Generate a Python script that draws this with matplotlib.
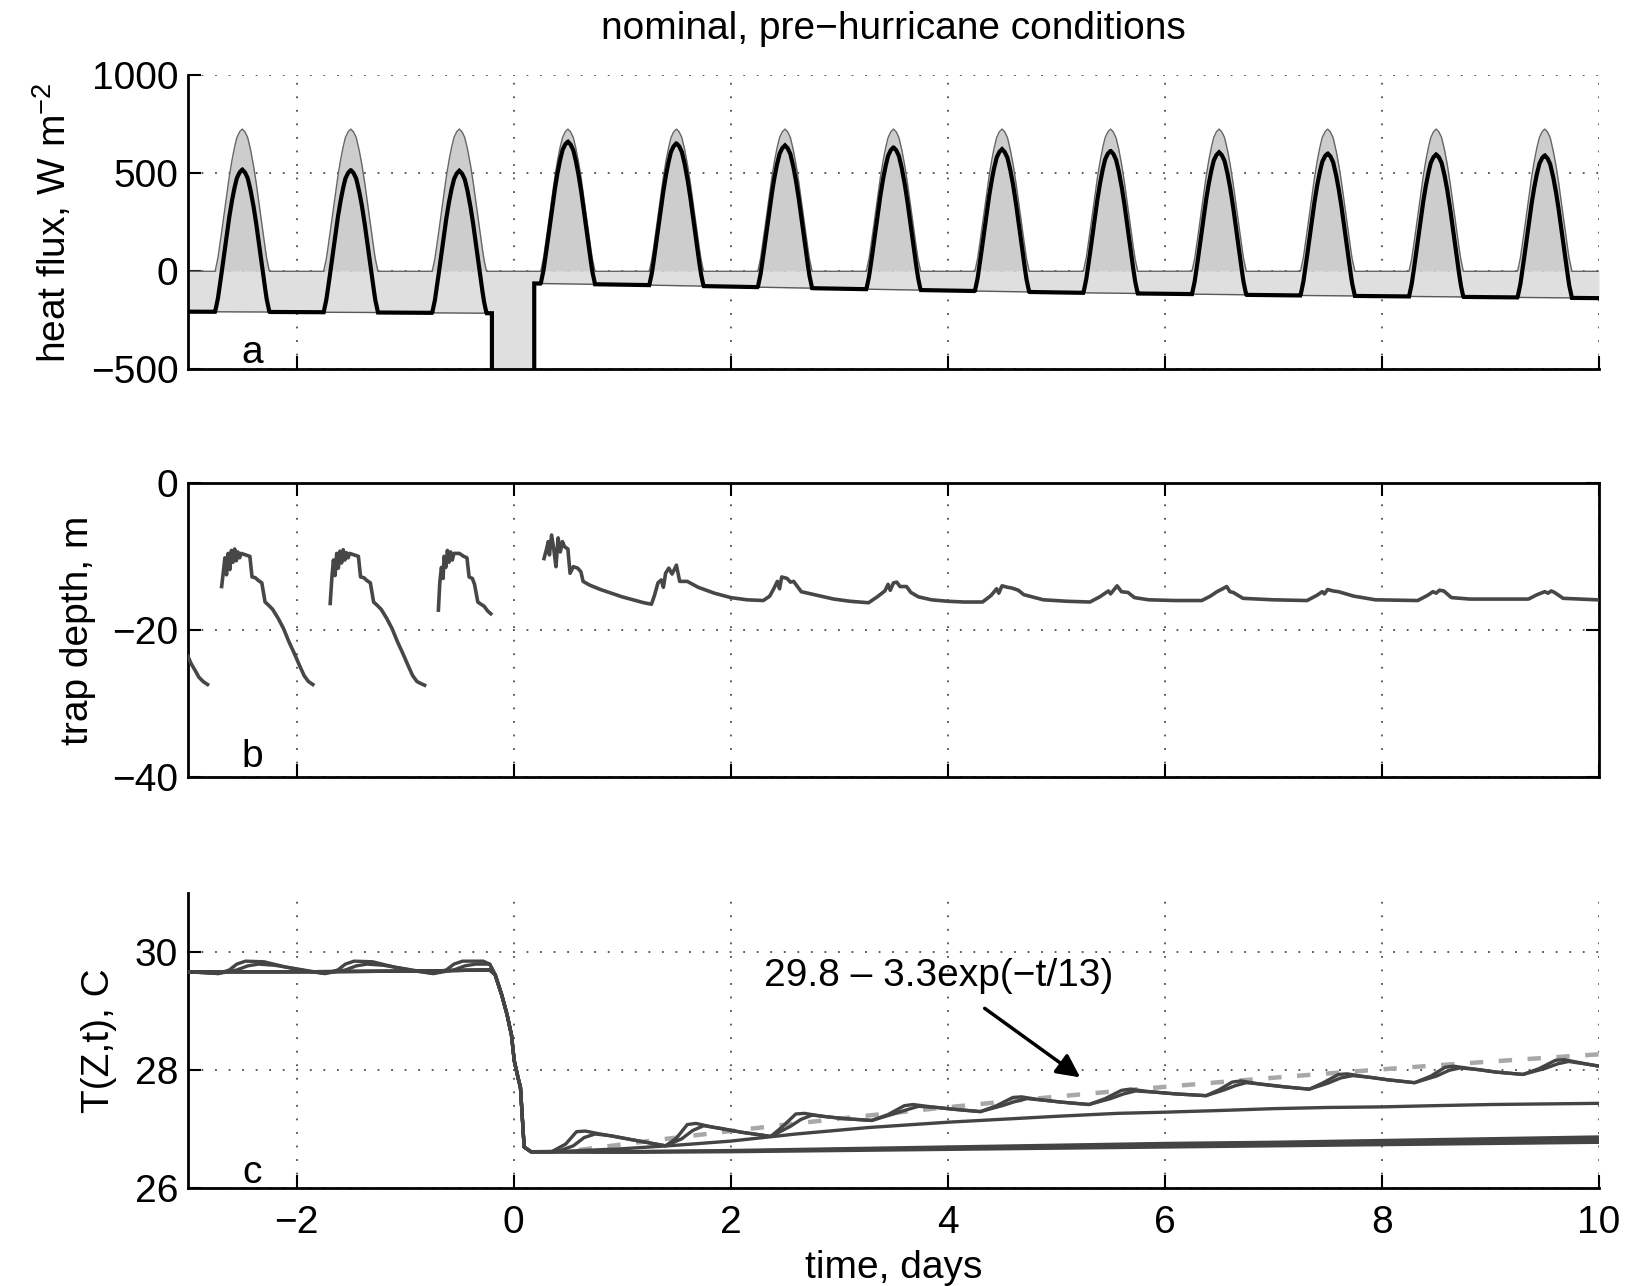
import numpy as np
import matplotlib
matplotlib.use("Agg")
import matplotlib.pyplot as plt

plt.rcParams['font.family'] = ['Liberation Sans', 'DejaVu Sans']
plt.rcParams['mathtext.fontset'] = 'custom'
plt.rcParams['mathtext.rm'] = 'Liberation Sans'
plt.rcParams['mathtext.it'] = 'Liberation Sans:italic'
plt.rcParams['font.size'] = 28
plt.rcParams['axes.unicode_minus'] = True

# ---------------- data: panel a (heat flux) ----------------
solar_peak = [726, 726, 726, 726, 726, 726, 726, 726, 726, 726, 726, 726, 726]  # one per day, -3..9
# diurnal shape of solar flux: fraction of peak vs |time from noon| (days)
solar_shape_dt = [0.0, 0.025, 0.05, 0.075, 0.1, 0.125, 0.15, 0.175, 0.2, 0.225, 0.25]
solar_shape_fr = [1.0, 0.98, 0.94, 0.86, 0.76, 0.64, 0.50, 0.36, 0.22, 0.09, 0.0]
# other (non-solar) heat flux, W m-2
q_pre_t = [-3.0, -2.0, -1.0, -0.2]
q_pre_v = [-206, -208, -211, -214]
q_storm_t = [-0.2, 0.19]
q_storm_v = [-1500, -1500]
q_post_t = [0.19, 1, 2, 3, 4, 5, 6, 7, 8, 9, 10]
q_post_v = [-62, -68, -78, -89, -98, -108, -115, -122, -127, -132, -137]

# ---------------- data: panel b (trap depth) ----------------
trap_segments = [
    ([-3.0, -2.97, -2.93, -2.90, -2.86, -2.82],
     [-23.6, -24.6, -25.6, -26.4, -27.0, -27.4]),
    ([-2.69, -2.675, -2.66, -2.645, -2.63, -2.615, -2.60, -2.585, -2.57, -2.555, -2.54, -2.525, -2.51,
      -2.47, -2.43, -2.41, -2.38, -2.35, -2.32, -2.29, -2.26, -2.22, -2.17, -2.12, -2.07, -2.02, -1.97,
      -1.93, -1.89, -1.85],
     [-14.1, -12.2, -10.2, -12.5, -9.6, -11.8, -9.2, -10.8, -9.0, -10.6, -9.4, -10.2, -9.6,
      -9.8, -10.0, -12.8, -12.9, -13.3, -13.6, -16.2, -16.6, -17.2, -18.4, -19.8, -21.6, -23.2, -24.9,
      -26.2, -27.0, -27.4]),
    ([-1.69, -1.675, -1.66, -1.645, -1.63, -1.615, -1.60, -1.585, -1.57, -1.555, -1.54, -1.525, -1.51,
      -1.47, -1.43, -1.41, -1.38, -1.35, -1.32, -1.29, -1.26, -1.22, -1.17, -1.12, -1.07, -1.02, -0.97,
      -0.93, -0.89, -0.85, -0.82],
     [-16.4, -13.0, -10.5, -12.6, -9.6, -11.6, -9.3, -10.9, -9.1, -10.5, -9.5, -10.2, -9.6,
      -9.8, -10.0, -12.8, -12.9, -13.3, -13.6, -16.2, -16.6, -17.2, -18.4, -19.8, -21.6, -23.2, -24.9,
      -26.2, -27.0, -27.3, -27.5]),
    ([-0.693, -0.68, -0.665, -0.65, -0.64, -0.625, -0.61, -0.595, -0.58, -0.565, -0.55, -0.50, -0.46,
      -0.43, -0.41, -0.38, -0.36, -0.33, -0.30, -0.27, -0.24, -0.21],
     [-17.3, -13.5, -11.5, -13.0, -10.0, -11.5, -9.2, -10.8, -9.4, -10.5, -9.6, -9.6, -10.0,
      -10.2, -12.8, -13.0, -13.8, -16.2, -16.5, -16.8, -17.4, -17.8]),
    ([0.28, 0.30, 0.32, 0.33, 0.35, 0.37, 0.39, 0.41, 0.43, 0.45, 0.47, 0.50, 0.52, 0.55, 0.59, 0.62,
      0.64, 0.70, 0.80, 0.90, 1.0, 1.1, 1.2, 1.27, 1.30, 1.33, 1.36, 1.38, 1.40, 1.43, 1.46, 1.50,
      1.53, 1.60, 1.70, 1.85, 2.0, 2.15, 2.30, 2.36, 2.40, 2.43, 2.45, 2.47, 2.52, 2.55, 2.58, 2.65,
      2.80, 2.95, 3.1, 3.27, 3.35, 3.42, 3.45, 3.47, 3.50, 3.53, 3.56, 3.62, 3.66, 3.73, 3.85, 4.0,
      4.15, 4.32, 4.40, 4.45, 4.47, 4.50, 4.55, 4.59, 4.65, 4.70, 4.88, 5.1, 5.31, 5.40, 5.48, 5.50,
      5.56, 5.60, 5.66, 5.72, 5.85, 6.1, 6.34, 6.42, 6.48, 6.52, 6.57, 6.60, 6.63, 6.72, 7.0, 7.31,
      7.40, 7.45, 7.47, 7.50, 7.55, 7.60, 7.74, 7.94, 8.33, 8.42, 8.47, 8.50, 8.53, 8.57, 8.64, 8.81,
      9.35, 9.43, 9.50, 9.53, 9.56, 9.59, 9.67, 9.98, 10.0],
     [-10.3, -9.2, -8.0, -9.8, -7.1, -9.0, -11.4, -7.5, -9.4, -8.0, -8.7, -9.0, -12.3, -11.4, -11.6, -12.1,
      -13.4, -13.9, -14.5, -15.0, -15.5, -15.9, -16.3, -16.5, -15.2, -13.6, -13.2, -14.2, -12.3, -11.6, -12.4, -11.2,
      -13.4, -13.4, -14.2, -15.0, -15.6, -15.9, -16.0, -15.4, -14.3, -13.4, -14.4, -12.8, -13.0, -13.5, -13.4, -14.8,
      -15.3, -15.8, -16.1, -16.3, -15.5, -14.7, -13.8, -14.6, -13.6, -13.5, -14.1, -14.1, -14.9, -15.5, -15.9, -16.1,
      -16.2, -16.2, -15.3, -14.4, -15.0, -14.0, -14.2, -14.3, -14.6, -15.2, -15.9, -16.1, -16.2, -15.5, -14.7, -15.1,
      -14.0, -14.8, -14.9, -15.6, -15.9, -16.0, -16.0, -15.4, -14.8, -14.5, -14.1, -14.8, -14.9, -15.7, -15.9, -16.0,
      -15.3, -14.8, -15.1, -14.5, -14.7, -14.8, -15.4, -15.9, -16.0, -15.3, -14.8, -15.0, -14.6, -14.7, -15.6, -15.8,
      -15.8, -15.2, -14.8, -15.0, -14.7, -14.9, -15.7, -15.9, -15.9]),
]

# ---------------- data: panel c (temperature) ----------------
drop_t = [-0.17, -0.11, -0.06, -0.02, 0.006, 0.04, 0.063, 0.078, 0.097, 0.16]
drop_v = [29.62, 29.28, 28.94, 28.60, 28.16, 27.88, 27.71, 27.26, 26.70, 26.62]

s1_pre_t = [-3.0, -2.72, -2.62, -2.55, -2.47, -2.3, -2.1, -1.9, -1.74, -1.62, -1.55, -1.47, -1.3, -1.1,
            -0.9, -0.74, -0.62, -0.55, -0.47, -0.28, -0.22]
s1_pre_v = [29.67, 29.64, 29.70, 29.80, 29.85, 29.84, 29.75, 29.68, 29.64, 29.70, 29.80, 29.85, 29.84, 29.75,
            29.68, 29.64, 29.70, 29.80, 29.85, 29.85, 29.80]
s1_post_t = [0.35, 0.48, 0.58, 0.66, 0.8, 1.1, 1.4, 1.5, 1.6, 1.68, 1.85, 2.1, 2.37, 2.48, 2.6, 2.68, 2.85,
             3.05, 3.3, 3.45, 3.6, 3.68, 3.85, 4.05, 4.3, 4.45, 4.6, 4.68, 4.85, 5.05, 5.3, 5.45, 5.6, 5.68,
             5.85, 6.1, 6.38, 6.5, 6.62, 6.7, 6.9, 7.1, 7.33, 7.45, 7.6, 7.68, 7.85, 8.05, 8.3, 8.45, 8.58,
             8.66, 8.85, 9.05, 9.3, 9.45, 9.6, 9.68, 9.85, 10.0]
s1_post_v = [26.62, 26.75, 26.96, 26.97, 26.92, 26.82, 26.72, 26.85, 27.08, 27.10, 27.03, 26.95, 26.88, 27.05,
             27.26, 27.27, 27.22, 27.18, 27.15, 27.25, 27.40, 27.42, 27.38, 27.34, 27.30, 27.40, 27.54, 27.55,
             27.50, 27.46, 27.42, 27.52, 27.66, 27.68, 27.64, 27.60, 27.57, 27.67, 27.80, 27.82, 27.76, 27.72,
             27.68, 27.78, 27.93, 27.94, 27.89, 27.84, 27.79, 27.90, 28.05, 28.07, 28.02, 27.97, 27.93, 28.03,
             28.17, 28.18, 28.12, 28.07]

s2_pre_t = [-3.0, -2.72, -2.55, -2.45, -2.35, -2.2, -2.0, -1.74, -1.55, -1.45, -1.35, -1.2, -1.0,
            -0.74, -0.55, -0.45, -0.35, -0.22]
s2_pre_v = [29.67, 29.64, 29.70, 29.77, 29.80, 29.78, 29.72, 29.64, 29.70, 29.77, 29.80, 29.78, 29.72,
            29.64, 29.70, 29.77, 29.80, 29.80]
s2_post_t = [0.4, 0.55, 0.65, 0.75, 0.9, 1.1, 1.4, 1.55, 1.65, 1.75, 1.9, 2.1, 2.37, 2.55, 2.65, 2.75, 2.9,
             3.05, 3.3, 3.5, 3.62, 3.73, 3.9, 4.05, 4.3, 4.5, 4.62, 4.73, 4.9, 5.05, 5.3, 5.5, 5.62, 5.73,
             5.9, 6.1, 6.38, 6.55, 6.65, 6.75, 6.92, 7.1, 7.33, 7.5, 7.62, 7.73, 7.9, 8.05, 8.3, 8.5, 8.62,
             8.72, 8.9, 9.05, 9.3, 9.5, 9.62, 9.72, 9.9, 10.0]
s2_post_v = [26.62, 26.72, 26.86, 26.92, 26.89, 26.82, 26.72, 26.84, 26.98, 27.06, 27.02, 26.95, 26.88, 27.05,
             27.17, 27.24, 27.21, 27.18, 27.15, 27.26, 27.33, 27.39, 27.37, 27.34, 27.30, 27.40, 27.47, 27.52,
             27.49, 27.46, 27.42, 27.52, 27.60, 27.65, 27.63, 27.60, 27.57, 27.67, 27.74, 27.79, 27.76, 27.72,
             27.68, 27.78, 27.87, 27.91, 27.88, 27.84, 27.79, 27.90, 28.00, 28.04, 28.01, 27.97, 27.93, 28.03,
             28.11, 28.15, 28.10, 28.07]

flat_pre_t = [-3.0, -2.0, -1.0, -0.22]
flat_pre_v = [29.67, 29.67, 29.68, 29.70]
mid_post_t = [0.5, 1.0, 1.5, 2.0, 2.6, 3.27, 4.0, 4.5, 5.0, 5.56, 6.0, 6.53, 7.0, 7.5, 8.0, 8.47, 9.0, 10.0]
mid_post_v = [26.63, 26.67, 26.73, 26.80, 26.92, 27.03, 27.12, 27.17, 27.22, 27.27, 27.29, 27.32, 27.35,
              27.37, 27.38, 27.40, 27.42, 27.44]
deep_post_t = [1, 2, 3, 4, 5, 6, 7, 8, 9, 10]
deep1_post_v = [26.62, 26.64, 26.67, 26.70, 26.73, 26.76, 26.78, 26.81, 26.84, 26.87]
deep2_post_v = [26.62, 26.63, 26.66, 26.68, 26.71, 26.73, 26.75, 26.78, 26.80, 26.83]
deep3_post_v = [26.61, 26.62, 26.64, 26.66, 26.68, 26.70, 26.72, 26.74, 26.76, 26.78]

fit_a, fit_b, fit_tau = 29.8, 3.3, 13.0
fit_t_start, fit_t_end = 0.6, 10.0

xticks = [-2, 0, 2, 4, 6, 8, 10]

# ---------------- figure ----------------
W, H = 1627, 1286
fig = plt.figure(figsize=(W / 100, H / 100), dpi=100)
L, R = 188 / W, 1599 / W
def frame(top, bot):
    return [L, 1 - bot / H, R - L, (bot - top) / H]

ax_a = fig.add_axes(frame(75.3, 369.3))
ax_b = fig.add_axes(frame(482.7, 777.3))
ax_c = fig.add_axes(frame(893.3, 1188.3))

grid_kw = dict(color='0.3', linestyle=(0, (1, 6.5)), linewidth=1.3)
for ax in (ax_a, ax_b, ax_c):
    ax.set_xlim(-3, 10)
    ax.set_xticks(xticks)
    ax.grid(True, **grid_kw)
    ax.set_axisbelow(True)
    ax.tick_params(direction='in', length=9.5, width=1.5, pad=7, labelsize=28)
    for s in ax.spines.values():
        s.set_linewidth(2.0)

# panel a
t_pre = np.linspace(q_pre_t[0], q_pre_t[-1], 700)
t_post = np.linspace(q_post_t[0], q_post_t[-1], 2400)
t = np.concatenate([t_pre, q_storm_t, t_post])
Q = np.concatenate([np.interp(t_pre, q_pre_t, q_pre_v), q_storm_v, np.interp(t_post, q_post_t, q_post_v)])
day_idx = np.clip(np.floor(t).astype(int) + 3, 0, len(solar_peak) - 1)
dnoon = np.abs(t - (np.floor(t) + 0.5))
S = np.array(solar_peak)[day_idx] * np.interp(dnoon, solar_shape_dt, solar_shape_fr, right=0.0)
net = S + Q

ax_a.fill_between(t, 0, S, color='#cdcdcd', linewidth=0, zorder=1)
ax_a.fill_between(t, Q, 0, color='#dfdfdf', linewidth=0, zorder=1)
ax_a.plot(t, S, color='0.4', lw=1.0, zorder=2)
ax_a.plot(t, Q, color='0.35', lw=1.0, zorder=2)
ax_a.plot(t, net, color='black', lw=3.0, zorder=3, solid_joinstyle='miter')
ax_a.set_ylim(-500, 1000)
ax_a.set_yticks([-500, 0, 500, 1000])
ax_a.tick_params(labelbottom=False)
ax_a.spines['top'].set_visible(False)
ax_a.spines['right'].set_visible(False)
ax_a.set_ylabel('heat flux, W m$^{-2}$', rotation=90, ha='center', va='center', rotation_mode='default')
ax_a.yaxis.set_label_coords((52 - 188) / (1599 - 188), 0.5)
ax_a.text(-2.41, -418, 'a', ha='center', va='center')

# panel b
for tx, ty in trap_segments:
    ax_b.plot(tx, ty, color='#474747', lw=2.6, zorder=3)
ax_b.set_ylim(-40, 0)
ax_b.set_yticks([-40, -20, 0])
ax_b.tick_params(labelbottom=False, top=True, right=True)
ax_b.set_ylabel('trap depth, m', rotation=90, ha='center', va='center', rotation_mode='default')
ax_b.yaxis.set_label_coords((78 - 188) / (1599 - 188), 0.5)
ax_b.text(-2.41, -37.2, 'b', ha='center', va='center')

# panel c
fit_t = np.linspace(fit_t_start, fit_t_end, 300)
ax_c.plot(fit_t, fit_a - fit_b * np.exp(-fit_t / fit_tau), color='0.66', lw=3.2,
          dashes=(3, 3.5), zorder=2)
lc = '#444444'
def line(pre_t, pre_v, post_t, post_v, lw=2.4):
    tt = list(pre_t) + list(drop_t) + list(post_t)
    vv = list(pre_v) + list(drop_v) + list(post_v)
    ax_c.plot(tt, vv, color=lc, lw=lw, zorder=3)

line(flat_pre_t, flat_pre_v, deep_post_t, deep3_post_v)
line(flat_pre_t, flat_pre_v, deep_post_t, deep2_post_v)
line(flat_pre_t, flat_pre_v, deep_post_t, deep1_post_v)
line(flat_pre_t, flat_pre_v, mid_post_t, mid_post_v)
line(s2_pre_t, s2_pre_v, s2_post_t, s2_post_v)
line(s1_pre_t, s1_pre_v, s1_post_t, s1_post_v)

ax_c.set_ylim(26, 31)
ax_c.set_yticks([26, 28, 30])
ax_c.spines['top'].set_visible(False)
ax_c.spines['right'].set_visible(False)
ax_c.tick_params(axis='x', pad=12)
ax_c.set_ylabel('T(Z,t), C', rotation=90, ha='center', va='center', rotation_mode='default')
ax_c.yaxis.set_label_coords((99 - 188) / (1599 - 188), 0.5)
ax_c.set_xlabel('time, days', va='center')
ax_c.xaxis.set_label_coords(0.5, (1188.3 - 1268) / (1188.3 - 893.3))
ax_c.text(-2.41, 26.26, 'c', ha='center', va='center')
ax_c.text(3.92, 29.59, '29.8 \u2013 3.3exp(\u2212t/13)', ha='center', va='center')
ax_c.annotate('', xy=(5.22, 27.88), xytext=(4.34, 29.05),
              arrowprops=dict(arrowstyle='-|>', lw=2.5, color='black', mutation_scale=35,
                              shrinkA=0, shrinkB=0))

fig.text((188 + 1599) / 2 / W, 1 - 29 / H, 'nominal, pre\u2212hurricane conditions',
         ha='center', va='center', fontsize=28)

fig.savefig('out.png', dpi=100)
